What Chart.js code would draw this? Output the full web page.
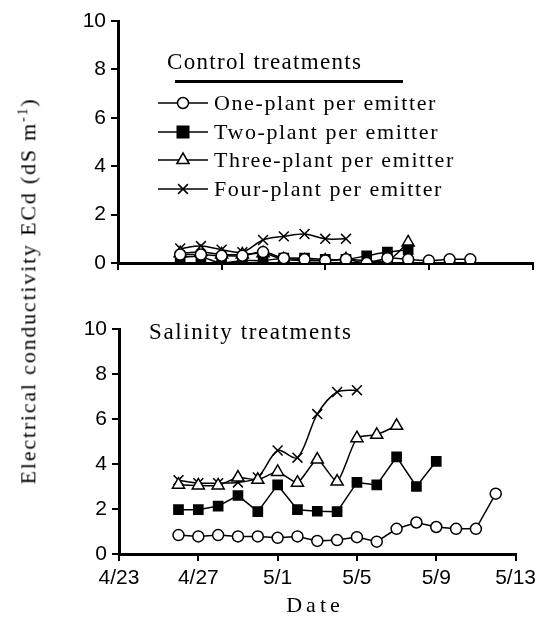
<!DOCTYPE html>
<html>
<head>
<meta charset="utf-8">
<script src="https://cdn.jsdelivr.net/npm/chart.js@4.4.0/dist/chart.umd.min.js"></script>
<style>
  body { margin: 0; background: #fff; }
  #wrap { position: relative; width: 541px; height: 625px; overflow: hidden; }
  canvas { position: absolute; left: 0; }
  .t { position: absolute; font-family: "Liberation Serif", serif; color: #000; white-space: nowrap; line-height: 1; }
  .leg { left: 214px; font-size: 22px; letter-spacing: 1.6px; }
</style>
</head>
<body>
<div id="wrap">
  <canvas id="top" width="541" height="300" style="top:0"></canvas>
  <canvas id="bot" width="541" height="325" style="top:300px"></canvas>

  <div class="t" id="ytitle" style="font-size:22px;letter-spacing:1.8px;left:28px;top:291px;transform:translate(-50%,-50%) rotate(-90deg);">Electrical conductivity ECd (dS m<sup style="font-size:14px">-1</sup>)</div>

  <div class="t" style="font-size:23px;letter-spacing:1.3px;left:167px;top:50px;">Control treatments</div>
  <div style="position:absolute;left:175px;top:80px;width:228px;height:3px;background:#000;"></div>
  <div class="t leg" style="top:92px">One-plant per emitter</div>
  <div class="t leg" style="top:121px">Two-plant per emitter</div>
  <div class="t leg" style="top:149px">Three-plant per emitter</div>
  <div class="t leg" style="top:178px">Four-plant per emitter</div>

  <div class="t" style="font-size:23px;letter-spacing:1.6px;left:149px;top:320px;">Salinity treatments</div>
  <div class="t" style="font-size:22px;letter-spacing:4px;left:315px;top:605px;transform:translate(-50%,-50%);">Date</div>
</div>
<script>
// dates of the readings (first reading 4/26)
const DATES = ['4/26','4/27','4/28','4/29','4/30','5/1','5/2','5/3','5/4','5/5','5/6','5/7','5/8','5/9','5/10','5/11','5/12'];
const SERIES = ['One-plant per emitter','Two-plant per emitter','Three-plant per emitter','Four-plant per emitter'];

// control treatments (dS m-1)
const ctrlOne   = [0.35,0.35,0.3,0.3,0.45,0.2,0.15,0.1,0.15,0.0,0.2,0.15,0.1,0.15,0.15,null,null];
const ctrlTwo   = [0.25,0.25,0.0,0.1,0.1,0.2,0.2,0.15,0.15,0.3,0.45,0.55,null,null,null,null,null];
const ctrlThree = [0.4,0.45,0.35,0.35,0.4,0.15,0.1,0.1,0.15,0.1,0.1,0.85,null,null,null,null,null];
const ctrlFour  = [0.6,0.7,0.55,0.45,0.95,1.1,1.2,1.0,1.0,null,null,null,null,null,null,null,null];

// salinity treatments (dS m-1)
const salOne   = [0.84,0.78,0.84,0.78,0.78,0.72,0.78,0.58,0.62,0.75,0.55,1.12,1.4,1.2,1.12,1.12,2.68];
const salTwo   = [1.97,1.97,2.13,2.6,1.88,3.07,1.97,1.9,1.88,3.18,3.07,4.32,3.0,4.12,null,null,null];
const salThree = [3.08,3.05,3.05,3.4,3.3,3.65,3.17,4.2,3.22,5.15,5.3,5.7,null,null,null,null,null];
const salFour  = [3.28,3.15,3.15,3.18,3.4,4.6,4.28,6.22,7.2,7.28,null,null,null,null,null,null,null];

const Y_TICKS = [0,2,4,6,8,10];

// day offset from 4/23
function dayOf(label) {
  const [m, d] = label.split('/').map(Number);
  return m === 4 ? d - 23 : d + 7;
}
function labelOf(v) {
  return v <= 7 ? '4/' + (23 + v) : '5/' + (v - 7);
}

const STYLES = [
  { pointStyle: 'circle',   radius: 5.5, bg: '#fff' },
  { pointStyle: 'rect',     radius: 6.5, bg: '#000' },
  { pointStyle: 'triangle', radius: 7,   bg: '#fff' },
  { pointStyle: 'crossRot', radius: 7,   bg: '#000' }
];

function makeSets(list, tensions) {
  return list.map((vals, i) => ({
    label: SERIES[i],
    data: DATES.map((d, j) => ({ x: dayOf(d), y: vals[j] })).filter(p => p.y !== null),
    borderColor: '#000',
    borderWidth: 1.5,
    backgroundColor: STYLES[i].bg,
    pointStyle: STYLES[i].pointStyle,
    pointRadius: STYLES[i].radius,
    pointBorderWidth: 1.5,
    pointBorderColor: '#000',
    pointBackgroundColor: STYLES[i].bg,
    tension: tensions[i],
    cubicInterpolationMode: 'default'
  }));
}

// legend samples (line + marker) in the top panel
const legendSamples = {
  id: 'legendSamples',
  afterDraw(chart) {
    const ctx = chart.ctx;
    const rows = [103, 132, 160, 189];
    chart.data.datasets.forEach((ds, i) => {
      const y = rows[i];
      ctx.save();
      ctx.strokeStyle = '#000';
      ctx.lineWidth = 1.5;
      ctx.beginPath();
      ctx.moveTo(158, y); ctx.lineTo(208, y); ctx.stroke();
      ctx.fillStyle = ds.pointBackgroundColor;
      const r = ds.pointRadius, x = 183;
      ctx.beginPath();
      if (ds.pointStyle === 'circle') {
        ctx.arc(x, y, r, 0, Math.PI * 2); ctx.fill(); ctx.stroke();
      } else if (ds.pointStyle === 'rect') {
        ctx.fillRect(x - r, y - r, 2 * r, 2 * r);
      } else if (ds.pointStyle === 'triangle') {
        ctx.moveTo(x, y - r); ctx.lineTo(x + r * 0.87, y + r * 0.5); ctx.lineTo(x - r * 0.87, y + r * 0.5);
        ctx.closePath(); ctx.fill(); ctx.stroke();
      } else {
        const a = r * 0.7;
        ctx.moveTo(x - a, y - a); ctx.lineTo(x + a, y + a);
        ctx.moveTo(x + a, y - a); ctx.lineTo(x - a, y + a); ctx.stroke();
      }
      ctx.restore();
    });
  }
};

function yScale(width) {
  return {
    min: 0, max: 10,
    afterBuildTicks: s => { s.ticks = Y_TICKS.map(v => ({ value: v })); },
    afterFit: s => { s.width = width; },
    border: { color: '#000', width: 3 },
    grid: { drawOnChartArea: false, drawTicks: true, tickLength: 7, color: '#000', lineWidth: 2 },
    ticks: { color: '#000', padding: 5, font: { family: 'Liberation Sans', size: 21 } }
  };
}

function xScale(step, height, showLabels) {
  return {
    type: 'linear',
    min: 0, max: 20,
    afterFit: s => { s.height = height; },
    border: { color: '#000', width: 3 },
    grid: { drawOnChartArea: false, drawTicks: true, tickLength: 7, color: '#000', lineWidth: 2 },
    ticks: {
      display: showLabels, stepSize: step, color: '#000', padding: 5,
      maxRotation: 0, autoSkip: false,
      font: { family: 'Liberation Sans', size: 21 },
      callback: v => labelOf(v)
    }
  };
}

const common = {
  responsive: false,
  animation: false,
  plugins: { legend: { display: false }, tooltip: { enabled: false } }
};

new Chart(document.getElementById('top'), {
  type: 'line',
  data: { datasets: makeSets([ctrlOne, ctrlTwo, ctrlThree, ctrlFour], [0.35, 0.35, 0.35, 0.35]) },
  options: Object.assign({}, common, {
    layout: { padding: { top: 21, right: 8, left: 0, bottom: 0 } },
    scales: { x: xScale(5, 37, false), y: yScale(118) }
  }),
  plugins: [legendSamples]
});

new Chart(document.getElementById('bot'), {
  type: 'line',
  data: { datasets: makeSets([salOne, salTwo, salThree, salFour], [0, 0, 0.2, 0.3]) },
  options: Object.assign({}, common, {
    layout: { padding: { top: 29, right: 22, left: 0, bottom: 0 } },
    scales: { x: xScale(4, 71, true), y: yScale(119) }
  })
});
</script>
</body>
</html>
